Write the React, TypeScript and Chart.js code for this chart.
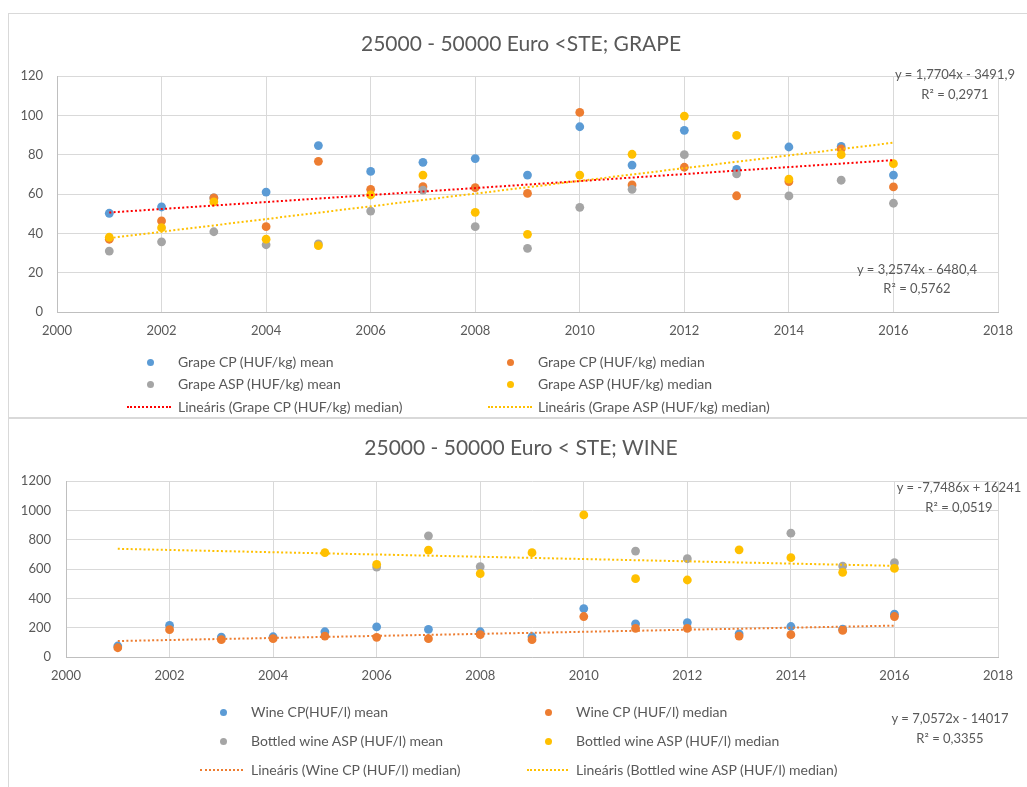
import React, { useEffect, useRef } from "react";
import { Chart, registerables } from "chart.js";

Chart.register(...registerables);

// ---------- DATA ----------
const years = [2001, 2002, 2003, 2004, 2005, 2006, 2007, 2008, 2009, 2010, 2011, 2012, 2013, 2014, 2015, 2016];

const grapeCpMean = [50.2, 53.4, 58, 61, 84.6, 71.5, 76.1, 78, 69.6, 94.2, 74.7, 92.4, 72.5, 83.9, 84.2, 69.6];
const grapeCpMedian = [37, 46.3, 58, 43.4, 76.6, 62.4, 63.7, 63.2, 60.3, 101.5, 64.6, 73.6, 59.1, 66.3, 82.9, 63.6];
const grapeAspMean = [31, 35.7, 40.8, 34.2, 34.6, 51.3, 62, 43.4, 32.4, 53.2, 62.4, 80, 70.2, 59, 67, 55.3];
const grapeAspMedian = [38, 42.9, 56, 37, 33.7, 59.5, 69.6, 50.7, 39.5, 69.6, 80.2, 99.6, 89.8, 67.6, 80, 75.4];

const wineCpMean = [75, 215, 136, 138, 172, 206, 188, 172, 138, 330, 226, 235, 158, 208, 190, 292];
const wineCpMedian = [63, 186, 118, 125, 143, 134, 125, 152, 118, 276, 195, 195, 143, 152, 181, 276];
const bottledMean = [null, null, null, null, null, 613, 826, 616, null, null, 722, 670, null, 844, 620, 643];
const bottledMedian = [null, null, null, null, 711, 632, 729, 568, 711, 969, 534, 525, 731, 677, 577, 604];

const grapeTitle = "25000 - 50000 Euro <STE; GRAPE";
const wineTitle = "25000 - 50000 Euro < STE; WINE";

const grapeLabels = [
  "Grape CP (HUF/kg) mean",
  "Grape CP (HUF/kg) median",
  "Grape ASP (HUF/kg) mean",
  "Grape ASP (HUF/kg) median",
  "Lineáris (Grape CP (HUF/kg) median)",
  "Lineáris (Grape ASP (HUF/kg) median)",
];
const wineLabels = [
  "Wine CP(HUF/l) mean",
  "Wine CP (HUF/l) median",
  "Bottled wine ASP (HUF/l) mean",
  "Bottled wine ASP (HUF/l) median",
  "Lineáris (Wine CP (HUF/l) median)",
  "Lineáris (Bottled wine ASP (HUF/l) median)",
];

const grapeEq1 = ["y = 1,7704x - 3491,9", "R² = 0,2971"];
const grapeEq2 = ["y = 3,2574x - 6480,4", "R² = 0,5762"];
const wineEq1 = ["y = -7,7486x + 16241", "R² = 0,0519"];
const wineEq2 = ["y = 7,0572x - 14017", "R² = 0,3355"];

// ---------- STYLE ----------
const BLUE = "#5B9BD5";
const ORANGE = "#ED7D31";
const GRAY = "#A5A5A5";
const YELLOW = "#FFC000";
const RED = "#FF0000";
const TEXT = "#595959";
const GRID = "#D9D9D9";
const FONT = "Lato, 'Open Sans', sans-serif";

function pts(vals: (number | null)[]) {
  return years.map((x, i) => ({ x, y: vals[i] })).filter((p) => p.y !== null) as { x: number; y: number }[];
}

function trend(vals: (number | null)[]) {
  const p = pts(vals);
  const n = p.length;
  const mx = p.reduce((s, q) => s + q.x, 0) / n;
  const my = p.reduce((s, q) => s + q.y, 0) / n;
  let sxy = 0, sxx = 0;
  p.forEach((q) => { sxy += (q.x - mx) * (q.y - my); sxx += (q.x - mx) * (q.x - mx); });
  const b = sxy / sxx;
  const a = my - b * mx;
  const x0 = years[0], x1 = years[years.length - 1];
  return [{ x: x0, y: a + b * x0 }, { x: x1, y: a + b * x1 }];
}

function scatterDs(label: string, vals: (number | null)[], color: string, order: number) {
  return {
    type: "scatter" as const,
    label,
    data: pts(vals),
    backgroundColor: color,
    borderColor: color,
    borderWidth: 0,
    pointRadius: 4.4,
    order,
  };
}
function trendDs(label: string, vals: (number | null)[], color: string, order: number) {
  return {
    type: "line" as const,
    label,
    data: trend(vals),
    borderColor: color,
    borderWidth: 2,
    borderDash: [2, 2.3],
    pointRadius: 0,
    fill: false,
    order,
  };
}

type PanelProps = {
  top: number;
  width: number;
  height: number;
  area: { left: number; top: number; right: number; bottom: number };
  yMax: number;
  yStep: number;
  yPad: number;
  datasets: any[];
};

function Panel(props: PanelProps) {
  const ref = useRef<HTMLCanvasElement>(null);
  useEffect(() => {
    const { width, height, area } = props;
    const xAxisH = 34;
    const chart = new Chart(ref.current!, {
      type: "scatter",
      data: { datasets: props.datasets },
      options: {
        animation: false,
        responsive: false,
        maintainAspectRatio: false,
        layout: {
          padding: {
            left: 0,
            top: area.top,
            right: width - area.right,
            bottom: height - area.bottom - xAxisH,
          },
        },
        plugins: { legend: { display: false }, title: { display: false }, tooltip: { enabled: false } },
        scales: {
          x: {
            type: "linear",
            min: 2000,
            max: 2018,
            ticks: { stepSize: 2, color: TEXT, font: { family: FONT, size: 13 }, padding: 11, callback: (v: any) => String(v) },
            grid: { color: GRID, drawTicks: false, lineWidth: 1 },
            border: { color: "#BFBFBF", width: 1 },
            afterFit: (s: any) => { s.height = xAxisH; },
          },
          y: {
            type: "linear",
            min: 0,
            max: props.yMax,
            ticks: { stepSize: props.yStep, color: TEXT, font: { family: FONT, size: 13 }, padding: props.yPad, callback: (v: any) => String(v) },
            grid: { color: GRID, drawTicks: false, lineWidth: 1 },
            border: { color: "#BFBFBF", width: 1 },
            afterFit: (s: any) => { s.width = area.left; },
          },
        },
      },
    });
    return () => chart.destroy();
  }, []);
  return (
    <canvas
      ref={ref}
      width={props.width}
      height={props.height}
      style={{ position: "absolute", left: 0, top: props.top, width: props.width, height: props.height }}
    />
  );
}

const txt: React.CSSProperties = { position: "absolute", color: TEXT, fontFamily: FONT, whiteSpace: "nowrap" };

function Title({ text, cy }: { text: string; cy: number }) {
  return (
    <div style={{ ...txt, left: 221, width: 600, top: cy - 15, lineHeight: "30px", fontSize: 21, textAlign: "center" }}>{text}</div>
  );
}

function Eq({ lines, cx, cy, gap }: { lines: string[]; cx: number; cy: number; gap: number }) {
  return (
    <>
      {lines.map((l, i) => (
        <div key={i} style={{ ...txt, left: cx - 100, width: 200, top: cy + i * gap - 9, lineHeight: "18px", fontSize: 13, textAlign: "center" }}>{l}</div>
      ))}
    </>
  );
}

function LegDot({ color, label, cx, tx, cy }: { color: string; label: string; cx: number; tx: number; cy: number }) {
  return (
    <>
      <div style={{ position: "absolute", left: cx - 3.5, top: cy - 3.5, width: 7, height: 7, borderRadius: "50%", background: color }} />
      <div style={{ ...txt, left: tx, top: cy - 9, lineHeight: "18px", fontSize: 14 }}>{label}</div>
    </>
  );
}

function LegLine({ color, label, x0, x1, tx, cy }: { color: string; label: string; x0: number; x1: number; tx: number; cy: number }) {
  return (
    <>
      <div style={{ position: "absolute", left: x0, top: cy - 1, width: x1 - x0, height: 0, borderTop: `2px dotted ${color}` }} />
      <div style={{ ...txt, left: tx, top: cy - 9, lineHeight: "18px", fontSize: 14 }}>{label}</div>
    </>
  );
}

export default function App() {
  const grapeSets = [
    scatterDs(grapeLabels[0], grapeCpMean, BLUE, 6),
    scatterDs(grapeLabels[1], grapeCpMedian, ORANGE, 5),
    scatterDs(grapeLabels[2], grapeAspMean, GRAY, 4),
    scatterDs(grapeLabels[3], grapeAspMedian, YELLOW, 3),
    trendDs(grapeLabels[4], grapeCpMedian, RED, 2),
    trendDs(grapeLabels[5], grapeAspMedian, YELLOW, 1),
  ];
  const wineSets = [
    scatterDs(wineLabels[0], wineCpMean, BLUE, 6),
    scatterDs(wineLabels[1], wineCpMedian, ORANGE, 5),
    scatterDs(wineLabels[2], bottledMean, GRAY, 4),
    scatterDs(wineLabels[3], bottledMedian, YELLOW, 3),
    trendDs(wineLabels[4], wineCpMedian, ORANGE, 2),
    trendDs(wineLabels[5], bottledMedian, YELLOW, 1),
  ];

  return (
    <div style={{ position: "absolute", left: 0, top: 0, width: 1027, height: 787, overflow: "hidden", background: "#fff" }}>
      <div style={{ position: "absolute", left: 8, top: 13, width: 1040, height: 404, border: `1px solid ${GRID}` }} />
      <div style={{ position: "absolute", left: 8, top: 417, width: 1040, height: 400, border: `1px solid ${GRID}` }} />

      <Panel top={0} width={1027} height={417} area={{ left: 57, top: 76, right: 998, bottom: 312 }} yMax={120} yStep={20} yPad={14} datasets={grapeSets} />
      <Panel top={417} width={1027} height={370} area={{ left: 66, top: 64, right: 998, bottom: 240 }} yMax={1200} yStep={200} yPad={15} datasets={wineSets} />

      <Title text={grapeTitle} cy={43} />
      <Title text={wineTitle} cy={447} />

      <Eq lines={grapeEq1} cx={955} cy={74} gap={20} />
      <Eq lines={grapeEq2} cx={917} cy={269} gap={19} />
      <Eq lines={wineEq1} cx={959} cy={487} gap={20} />
      <Eq lines={wineEq2} cx={950} cy={718} gap={20} />

      <LegDot color={BLUE} label={grapeLabels[0]} cx={150} tx={178} cy={362} />
      <LegDot color={ORANGE} label={grapeLabels[1]} cx={510} tx={538} cy={362} />
      <LegDot color={GRAY} label={grapeLabels[2]} cx={150} tx={178} cy={384} />
      <LegDot color={YELLOW} label={grapeLabels[3]} cx={510} tx={538} cy={384} />
      <LegLine color={RED} label={grapeLabels[4]} x0={127} x1={171} tx={178} cy={407} />
      <LegLine color={YELLOW} label={grapeLabels[5]} x0={488} x1={532} tx={538} cy={407} />

      <LegDot color={BLUE} label={wineLabels[0]} cx={223} tx={251} cy={712} />
      <LegDot color={ORANGE} label={wineLabels[1]} cx={548} tx={576} cy={712} />
      <LegDot color={GRAY} label={wineLabels[2]} cx={223} tx={251} cy={741} />
      <LegDot color={YELLOW} label={wineLabels[3]} cx={548} tx={576} cy={741} />
      <LegLine color={ORANGE} label={wineLabels[4]} x0={200} x1={243} tx={251} cy={770} />
      <LegLine color={YELLOW} label={wineLabels[5]} x0={527} x1={568} tx={576} cy={770} />
    </div>
  );
}
